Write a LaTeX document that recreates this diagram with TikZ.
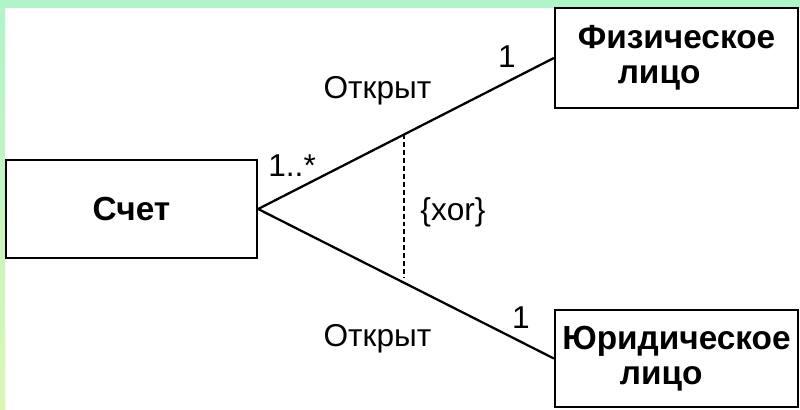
\documentclass[tikz,border=0pt]{standalone}
\usepackage{fontspec}
\setmainfont{Liberation Sans}
\usetikzlibrary{calc}
\definecolor{bandtop}{HTML}{B0F5C8}
\definecolor{bandbot}{HTML}{D8F8B2}

\begin{document}
\begin{tikzpicture}[x=0.02cm, y=-0.02cm,
    cls/.style={draw, line width=1.3pt, fill=white, inner sep=0pt,
        font=\fontsize{19}{20}\selectfont\bfseries},
    lbl/.style={font=\fontsize{18}{20}\selectfont}]
    \useasboundingbox (0,0) rectangle (800,409);

    % frame
    \fill[bandtop] (0,0) rectangle (800,8);
    \shade[top color=bandtop, bottom color=bandbot] (0,8) rectangle (5,409);

    % classes
    \node[cls, minimum width=5.02cm, minimum height=1.96cm] (schet) at (131.5,209) {Счет};
    \node[cls, minimum width=4.86cm, minimum height=2cm, align=left] (fiz) at (676.5,58)
        {Физическое\\\hspace*{0.8cm}лицо};
    \node[cls, minimum width=4.86cm, minimum height=1.94cm, align=left] (jur) at (676.5,358.5)
        {Юридическое\\\hspace*{1.15cm}лицо};

    % associations
    \draw[line width=1.3pt] (schet.east) -- (fiz.west);
    \draw[line width=1.3pt] (schet.east) -- (jur.west);

    % xor constraint
    \coordinate (xtop) at ($(schet.east)!0.493!(fiz.west)$);
    \coordinate (xbot) at (xtop |- 0,278);
    \draw[line width=1.1pt, dash pattern=on 2.8pt off 1.7pt] (xtop) -- (xbot);
    \node[lbl, anchor=base] (xor) at (453,220) {\{xor\}};

    % roles and multiplicities
    \node[lbl, anchor=base] (open1) at (377.5,98) {Открыт};
    \node[lbl, anchor=base] (open2) at (377.5,346) {Открыт};
    \node[lbl, anchor=base west, inner sep=0pt] (many) at (268,176) {1..*};
    \node[lbl, anchor=base] (one1) at (507,67) {1};
    \node[lbl, anchor=base] (one2) at (521,328) {1};
\end{tikzpicture}
\end{document}
